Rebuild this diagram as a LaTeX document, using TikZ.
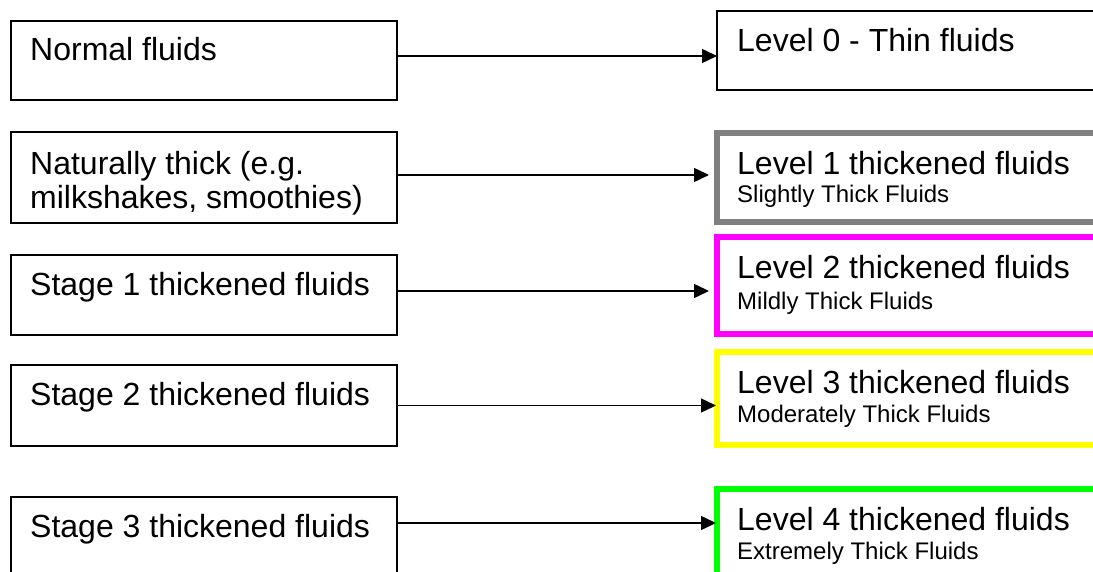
\documentclass[tikz,border=0pt]{standalone}
\usepackage{fontspec}
\setmainfont{Liberation Sans}
\usetikzlibrary{positioning, arrows.meta}
\definecolor{lvlgray}{RGB}{128,128,128}
\definecolor{lvlpink}{RGB}{255,0,255}
\definecolor{lvlyellow}{RGB}{255,255,0}
\definecolor{lvlgreen}{RGB}{0,255,0}

\tikzset{
	stagebox/.style={draw, line width=1.2pt, minimum width=386pt, inner sep=0pt, outer sep=0pt},
	levelbox/.style={draw, inner sep=0pt, outer sep=0pt, minimum width=400pt},
	bigtext/.style={font=\fontsize{32}{34}\selectfont, inner sep=0pt, align=left},
	smalltext/.style={font=\fontsize{24}{26}\selectfont, inner sep=0pt},
	link/.style={-{Triangle[length=15pt,width=14pt]}, line width=1.5pt},
}

\begin{document}
\begin{tikzpicture}[x=1pt, y=-1pt]

\clip (0,0) rectangle (1093,572);

%----------STAGES (OLD)-------------%
\node [stagebox, minimum height=79pt] (normal) at (204,60.5) {};
\node [stagebox, minimum height=91pt] (natural) at (204,177.5) {};
\node [stagebox, minimum height=80pt] (stageone) at (204,295) {};
\node [stagebox, minimum height=81pt] (stagetwo) at (204,405.5) {};
\node [stagebox, minimum height=80pt] (stagethree) at (204,537) {};

\node [bigtext, anchor=base west] (normaltxt) at ([xshift=19pt, yshift=-40pt]normal.north west) {Normal fluids};
\node [bigtext, anchor=base west] (naturaltxt) at ([xshift=19pt, yshift=-77pt]natural.north west) {Naturally thick (e.g.\\milkshakes, smoothies)};
\node [bigtext, anchor=base west] (stageonetxt) at ([xshift=19pt, yshift=-40pt]stageone.north west) {Stage 1 thickened fluids};
\node [bigtext, anchor=base west] (stagetwotxt) at ([xshift=19pt, yshift=-40pt]stagetwo.north west) {Stage 2 thickened fluids};
\node [bigtext, anchor=base west] (stagethreetxt) at ([xshift=19pt, yshift=-40pt]stagethree.north west) {Stage 3 thickened fluids};

%----------LEVELS (NEW)-------------%
\node [levelbox, line width=1.2pt, minimum height=79pt] (lvl0) at (917,50.5) {};
\node [levelbox, line width=6pt, draw=lvlgray, minimum height=89pt] (lvl1) at (917,177.5) {};
\node [levelbox, line width=6pt, draw=lvlpink, minimum height=97pt] (lvl2) at (917,285.5) {};
\node [levelbox, line width=6pt, draw=lvlyellow, minimum height=93pt] (lvl3) at (917,398.5) {};
\node [levelbox, line width=6pt, draw=lvlgreen, minimum height=100pt] (lvl4) at (917,539) {};

\node [bigtext, anchor=base west] (lvl0txt) at ([xshift=20pt, yshift=-41pt]lvl0.north west) {Level 0 - Thin fluids};
\node [bigtext, anchor=base west] (lvl1txt) at ([xshift=20pt, yshift=-42pt]lvl1.north west) {Level 1 thickened fluids};
\node [bigtext, anchor=base west] (lvl2txt) at ([xshift=20pt, yshift=-42pt]lvl2.north west) {Level 2 thickened fluids};
\node [bigtext, anchor=base west] (lvl3txt) at ([xshift=20pt, yshift=-41pt]lvl3.north west) {Level 3 thickened fluids};
\node [bigtext, anchor=base west] (lvl4txt) at ([xshift=20pt, yshift=-41pt]lvl4.north west) {Level 4 thickened fluids};

\node [smalltext, anchor=base west] (lvl1sub) at ([yshift=-28pt]lvl1txt.base west) {Slightly Thick Fluids};
\node [smalltext, anchor=base west] (lvl2sub) at ([yshift=-30pt]lvl2txt.base west) {Mildly Thick Fluids};
\node [smalltext, anchor=base west] (lvl3sub) at ([yshift=-29pt]lvl3txt.base west) {Moderately Thick Fluids};
\node [smalltext, anchor=base west] (lvl4sub) at ([yshift=-29pt]lvl4txt.base west) {Extremely Thick Fluids};

%----------LINKS-------------%
\draw[link] ([yshift=4.5pt]normal.east) -- ([yshift=4.5pt]normal.east -| lvl0.west);
\draw[link, shorten >=8pt] ([yshift=2.5pt]natural.east) -- ([yshift=2.5pt]natural.east -| lvl1.west);
\draw[link, shorten >=8pt] ([yshift=4pt]stageone.east) -- ([yshift=4pt]stageone.east -| lvl2.west);
\draw[link, shorten >=1pt] (stagetwo.east) -- (stagetwo.east -| lvl3.west);
\draw[link, shorten >=1pt] ([yshift=14pt]stagethree.east) -- ([yshift=14pt]stagethree.east -| lvl4.west);

\end{tikzpicture}
\end{document}
